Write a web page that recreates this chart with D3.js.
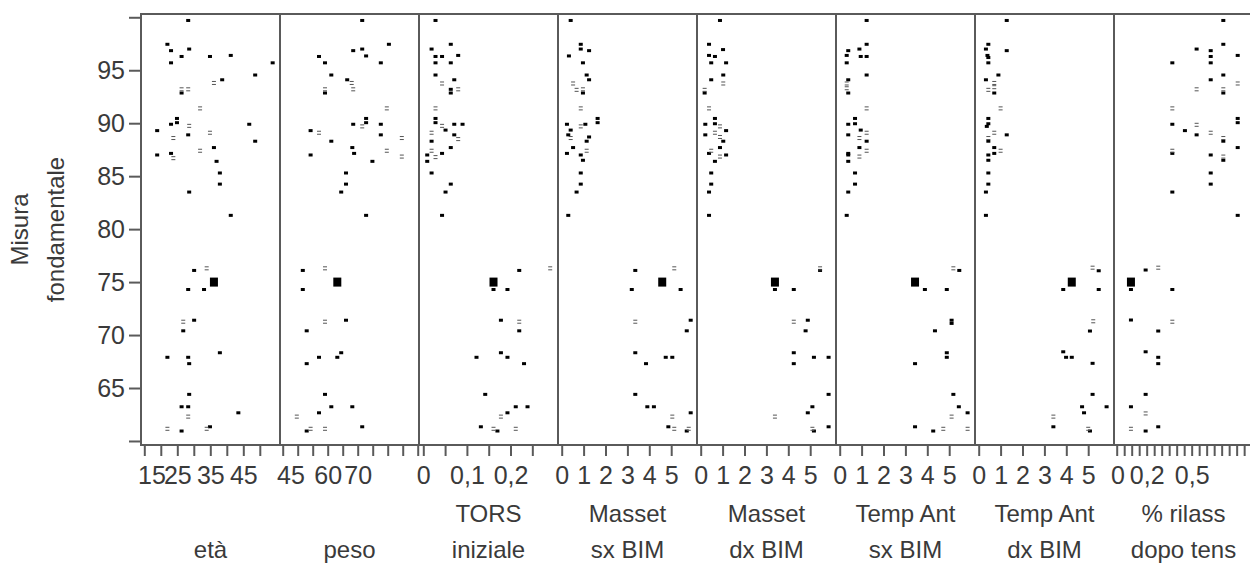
<!DOCTYPE html>
<html><head><meta charset="utf-8">
<script src="https://cdn.jsdelivr.net/npm/d3@7/dist/d3.min.js"></script>
<style>
body{margin:0;background:#fff;overflow:hidden}
text{font-family:"Liberation Sans",Arial,sans-serif;fill:#3a3a3a}
</style>
</head><body>
<svg id="chart" width="1250" height="563"></svg>
<script>
// ---------- DATA ----------
const panelTitles = [["età"],["peso"],["TORS","iniziale"],["Masset","sx BIM"],["Masset","dx BIM"],["Temp Ant","sx BIM"],["Temp Ant","dx BIM"],["% rilass","dopo tens"]];
const xDomains = [[14,56.12],[44.1,90.43],[-0.00986,0.3089],[-0.169,6.178],[-0.169,6.178],[-0.169,6.178],[-0.169,6.178],[-0.018,0.909]];
const xTicks = [
  [15,20,25,30,35,40,45,50],
  [45,50,55,60,65,70,75,80,85,90],
  [0,0.05,0.1,0.15,0.2,0.25],
  [0,1,2,3,4,5],[0,1,2,3,4,5],[0,1,2,3,4,5],[0,1,2,3,4,5],
  [0,0.05,0.1,0.15,0.2,0.25,0.3,0.35,0.4,0.45,0.5,0.55,0.6,0.65,0.7,0.75,0.8,0.85,0.9]
];
const xTickLabels = [[15,25,35,45],[45,60,70],[0,0.1,0.2],[0,1,2,3,4,5],[0,1,2,3,4,5],[0,1,2,3,4,5],[0,1,2,3,4,5],[0,0.2,0.5]];
const yTicks = [60,65,70,75,80,85,90,95,100];
const yTickLabels = [65,70,75,80,85,90,95];
const yDomain = [59.62,100.31];
const yTitle = ["Misura","fondamentale"];

// points: [x, y, light(1) / solid(0)]
const eta = [[28.3,99.7,0],[22.0,97.45,0],[23.1,96.85,0],[28.6,97.0,0],[26.3,96.3,0],[34.9,96.3,0],[41.2,96.4,0],[23.1,95.7,0],[53.9,95.7,0],[48.6,94.55,0],[38.6,94.1,0],[36.1,93.8,1],[26.3,93.2,1],[28.3,93.2,1],[26.3,92.85,0],[31.9,91.4,1],[24.9,90.45,0],[24.9,90.05,0],[23.1,89.9,0],[28.6,89.75,1],[46.8,89.9,0],[18.9,89.3,0],[28.3,88.9,0],[34.9,89.1,1],[23.8,88.6,1],[48.6,88.3,0],[36.1,87.7,0],[31.9,87.4,1],[18.9,87.0,0],[23.1,87.15,0],[23.8,86.7,1],[36.9,86.4,0],[37.9,85.3,0],[37.9,84.25,0],[28.6,83.5,0],[41.2,81.3,0],
 [30.1,76.1,0],[33.9,76.3,1],[28.3,74.3,0],[33.1,74.3,0],[30.1,71.4,0],[26.8,71.26,1],[26.8,70.4,0],[22.0,67.9,0],[28.3,67.9,0],[28.6,67.3,0],[37.9,68.33,0],[28.6,64.4,0],[26.3,63.23,0],[28.3,63.23,0],[43.5,62.66,0],[28.3,62.3,1],[22.0,61.15,1],[26.3,60.94,0],[33.9,61.15,1],[34.9,61.34,0]];
const peso = [[71.5,99.7,0],[80.4,97.45,0],[71.5,97.0,0],[68.5,96.85,0],[72.8,96.35,0],[57.1,96.3,0],[59.1,95.7,0],[77.7,95.7,0],[61.2,94.55,0],[66.5,94.1,0],[68.0,93.8,1],[68.5,93.2,1],[59.1,93.2,1],[59.1,92.85,0],[79.7,91.4,1],[72.8,90.45,0],[72.8,90.05,0],[68.5,89.9,0],[71.5,89.7,1],[77.7,89.9,0],[54.3,89.3,0],[57.1,89.1,1],[77.7,88.9,0],[84.7,88.6,1],[61.2,88.3,0],[68.2,87.7,0],[79.7,87.4,1],[54.3,87.0,0],[68.8,87.15,0],[84.7,86.85,1],[74.9,86.4,0],[66.1,85.3,0],[66.1,84.25,0],[64.5,83.5,0],[72.8,81.3,0],
 [51.7,76.1,0],[59.1,76.3,1],[51.7,74.3,0],[66.1,71.4,0],[59.1,71.26,1],[53.0,70.4,0],[57.1,67.9,0],[63.2,67.9,0],[64.5,68.33,0],[53.0,67.3,0],[59.1,64.4,0],[61.2,63.23,0],[68.2,63.23,0],[57.1,62.66,0],[49.7,62.3,1],[53.0,60.94,0],[54.3,61.15,1],[59.1,61.15,1],[71.5,61.34,0]];
const tors = [[0.028,99.7,0],[0.063,97.45,0],[0.019,97.0,0],[0.028,96.3,0],[0.043,96.3,0],[0.080,96.4,0],[0.028,95.7,0],[0.063,95.7,0],[0.028,94.55,0],[0.071,94.1,0],[0.043,93.75,1],[0.063,93.2,0],[0.080,93.2,1],[0.063,92.85,0],[0.028,91.4,1],[0.028,90.45,0],[0.028,90.05,0],[0.043,89.75,1],[0.051,89.35,0],[0.071,89.9,0],[0.090,89.9,0],[0.019,89.1,1],[0.071,88.9,0],[0.080,88.5,1],[0.019,88.3,0],[0.063,87.7,0],[0.019,87.4,1],[0.009,87.0,0],[0.043,87.15,0],[0.028,86.8,1],[0.009,86.4,0],[0.019,85.3,0],[0.063,84.25,0],[0.051,83.5,0],[0.043,81.3,0],
 [0.220,76.1,0],[0.291,76.3,1],[0.161,74.3,0],[0.193,74.3,0],[0.178,71.4,0],[0.220,71.26,1],[0.220,70.4,0],[0.122,67.9,0],[0.193,67.9,0],[0.178,68.33,0],[0.231,67.3,0],[0.142,64.4,0],[0.212,63.23,0],[0.239,63.23,0],[0.193,62.66,0],[0.178,62.3,1],[0.132,61.34,0],[0.161,61.15,1],[0.170,60.94,0],[0.212,61.15,1]];
const massetSx = [[0.41,99.7,0],[0.87,97.45,0],[0.87,97.0,0],[1.25,96.85,0],[0.33,96.35,0],[0.97,95.7,0],[1.14,94.55,0],[1.25,94.1,0],[0.52,93.75,1],[0.68,93.15,1],[0.97,93.2,1],[0.97,92.85,0],[0.87,91.4,1],[1.64,90.45,0],[1.64,90.05,0],[0.24,89.9,0],[0.87,89.7,1],[1.08,89.9,0],[0.41,89.35,0],[0.30,88.9,0],[0.41,88.6,1],[1.25,88.7,0],[1.14,88.3,0],[0.52,87.7,0],[1.14,87.4,1],[0.24,87.15,0],[0.87,87.0,0],[0.97,86.5,0],[0.87,85.3,0],[0.87,84.25,0],[0.68,83.5,0],[0.30,81.3,0],
 [3.36,76.1,0],[5.14,76.3,1],[3.20,74.3,0],[5.43,74.3,0],[5.89,71.4,0],[3.36,71.26,1],[5.71,70.4,0],[3.36,68.33,0],[4.75,67.9,0],[5.05,67.9,0],[3.85,67.3,0],[3.36,64.4,0],[3.91,63.23,0],[4.21,63.23,0],[5.89,62.66,0],[5.05,62.3,1],[4.87,61.34,0],[5.14,61.15,1],[5.71,60.94,0],[5.80,61.15,1]];
const massetDx = [[0.88,99.7,0],[0.38,97.45,0],[1.02,96.95,0],[0.38,96.4,0],[0.65,96.3,0],[0.48,95.7,0],[1.16,95.7,0],[1.03,94.55,0],[0.48,94.1,0],[1.03,93.75,1],[0.18,93.15,1],[0.18,92.85,0],[0.38,91.4,1],[0.65,90.45,0],[0.65,89.95,0],[0.21,89.9,0],[0.88,89.7,1],[1.16,89.3,0],[0.65,89.1,1],[0.21,88.9,0],[0.88,88.7,1],[1.03,88.3,0],[0.88,87.7,0],[0.48,87.4,1],[0.38,87.15,0],[1.16,87.0,0],[0.88,86.85,1],[0.65,86.4,0],[0.48,85.3,0],[0.48,84.25,0],[0.38,83.5,0],[0.38,81.3,0],
 [5.45,76.3,1],[5.45,76.1,0],[3.39,74.3,0],[4.25,74.3,0],[4.25,71.26,1],[4.89,71.4,0],[4.79,70.4,0],[4.25,68.33,0],[5.17,67.9,0],[5.84,67.9,0],[4.25,67.3,0],[5.84,64.4,0],[5.10,63.23,0],[4.89,62.66,0],[3.39,62.3,1],[5.84,61.34,0],[5.10,61.15,1],[5.17,60.94,0]];
const tempSx = [[1.23,99.7,0],[1.23,97.45,0],[0.90,97.0,0],[0.39,96.85,0],[0.32,96.4,0],[0.96,96.3,0],[1.23,96.3,0],[0.32,95.7,0],[1.23,94.55,0],[0.39,94.1,0],[0.32,93.75,1],[0.32,93.3,1],[0.39,92.85,0],[1.23,91.4,1],[0.70,90.45,0],[0.39,89.9,0],[0.96,89.35,0],[0.70,89.95,0],[0.39,88.9,0],[0.90,88.6,1],[1.23,89.1,1],[1.23,88.3,0],[0.90,87.7,0],[1.23,87.4,1],[0.39,87.15,0],[0.39,87.0,0],[0.90,86.85,1],[0.39,86.4,0],[0.70,85.3,0],[0.70,84.25,0],[0.39,83.5,0],[0.32,81.3,0],
 [5.19,76.3,1],[5.46,76.1,0],[3.89,74.3,0],[4.89,74.3,0],[5.11,71.4,0],[5.11,71.1,0],[4.35,70.4,0],[4.89,68.33,0],[4.89,67.9,0],[3.44,67.3,0],[5.19,64.4,0],[5.44,63.23,0],[5.84,62.66,0],[5.11,62.3,1],[3.44,61.34,0],[4.27,60.94,0],[4.73,61.15,1],[5.84,61.15,1]];
const tempDx = [[1.28,99.7,0],[0.44,97.45,0],[1.28,96.85,0],[0.33,97.0,0],[0.40,96.4,0],[0.44,96.2,0],[0.44,95.7,0],[0.90,94.55,0],[0.33,94.1,0],[0.71,93.8,1],[0.44,93.15,1],[0.71,93.4,1],[0.71,92.85,0],[1.0,91.4,1],[0.44,90.45,0],[0.44,89.95,0],[0.37,89.7,0],[0.71,89.1,1],[1.28,88.9,0],[0.44,88.6,1],[0.44,88.3,0],[0.71,87.7,0],[1.0,87.4,1],[0.71,87.15,0],[0.44,87.0,0],[0.44,86.5,0],[0.44,85.3,0],[0.44,84.25,0],[0.33,83.5,0],[0.33,81.3,0],
 [5.2,76.36,1],[5.48,76.07,0],[3.86,74.3,0],[5.48,74.3,0],[5.23,71.3,1],[5.08,70.38,0],[3.86,68.42,0],[3.99,67.9,0],[4.25,67.9,0],[5.2,67.33,0],[5.2,64.4,0],[4.72,63.23,0],[5.84,63.23,0],[4.81,62.66,0],[3.41,62.3,1],[3.41,61.34,0],[5.0,61.15,1],[5.08,60.94,0]];
const rilass = [[0.711,99.7,0],[0.711,97.45,0],[0.533,97.0,0],[0.627,96.85,0],[0.807,96.4,0],[0.627,96.3,0],[0.627,95.7,0],[0.371,95.7,0],[0.711,94.55,0],[0.627,94.1,0],[0.807,93.75,1],[0.533,93.2,1],[0.711,93.2,1],[0.711,92.85,0],[0.371,91.4,1],[0.807,90.45,0],[0.807,90.05,0],[0.371,89.9,0],[0.533,89.85,1],[0.455,89.3,0],[0.533,88.9,0],[0.627,89.1,1],[0.711,88.6,1],[0.711,88.3,0],[0.807,87.7,0],[0.371,87.4,1],[0.371,87.15,0],[0.627,87.0,0],[0.711,86.85,1],[0.711,86.5,0],[0.627,85.3,0],[0.627,84.25,0],[0.371,83.5,0],[0.807,81.3,0],
 [0.193,76.14,0],[0.277,76.36,1],[0.095,74.3,0],[0.371,74.3,0],[0.095,71.42,0],[0.371,71.26,1],[0.277,70.38,0],[0.193,68.42,0],[0.277,67.9,0],[0.277,67.3,0],[0.193,64.4,0],[0.095,63.23,0],[0.193,62.6,1],[0.095,61.15,1],[0.193,60.94,0],[0.277,61.34,0]];
const seriesList = [eta, peso, tors, massetSx, massetDx, tempSx, tempDx, rilass];
// highlighted subject (large square), x per variable, shared y
const highlightX = [36.1, 63.2, 0.161, 4.59, 3.39, 3.44, 4.25, 0.095];
const highlightY = 75;

// ---------- LAYOUT ----------
const plotLeft = 141, plotTop = 14, plotBottom = 445, panelW = 139;
const axisColor = "#5a5a5a";
const fmt = v => String(v).replace(".", ",");

const svg = d3.select("#chart");
const yScale = d3.scaleLinear().domain(yDomain).range([plotBottom, plotTop]);

// y axis
const yAxis = d3.axisLeft(yScale).tickValues(yTicks).tickSize(12).tickPadding(4)
  .tickFormat(d => yTickLabels.includes(d) ? fmt(d) : "");
const gy = svg.append("g").attr("transform", `translate(${plotLeft},0)`).call(yAxis);
gy.select(".domain").remove();
gy.selectAll("line").attr("stroke", axisColor).attr("stroke-width", 2);
gy.selectAll("text").attr("font-size", 25).attr("fill", "#3a3a3a")
  .attr("font-family", '"Liberation Sans",Arial,sans-serif');

// y title
const yt = svg.append("text").attr("transform", `translate(0,${(plotTop+plotBottom)/2}) rotate(-90)`)
  .attr("text-anchor", "middle").attr("font-size", 24);
yt.append("tspan").attr("x", 0).attr("y", 28).text(yTitle[0]);
yt.append("tspan").attr("x", 0).attr("y", 64).text(yTitle[1]);

// panels
seriesList.forEach((data, i) => {
  const x0 = plotLeft + i * panelW;
  const x = d3.scaleLinear().domain(xDomains[i]).range([x0, x0 + panelW]);
  const g = svg.append("g");

  // x axis
  const xa = d3.axisBottom(x).tickValues(xTicks[i]).tickSize(11).tickPadding(7)
    .tickFormat(d => xTickLabels[i].some(l => Math.abs(l - d) < 1e-9) ? fmt(d) : "");
  const gx = g.append("g").attr("transform", `translate(0,${plotBottom})`).call(xa);
  gx.select(".domain").remove();
  gx.selectAll("line").attr("stroke", axisColor).attr("stroke-width", 2);
  gx.selectAll("text").attr("font-size", 25).attr("fill", "#3a3a3a")
    .attr("font-family", '"Liberation Sans",Arial,sans-serif')
    .attr("y", 21).attr("dy", "0.71em");
  // keep labels from spilling past the panel's left edge
  gx.selectAll(".tick text").each(function() {
    const t = d3.select(this);
    const tx = d3.select(this.parentNode).attr("transform");
    const px = +/translate\(([-\d.]+)/.exec(tx)[1];
    const w = this.getComputedTextLength();
    if (w > 0 && px - w / 2 < x0 - 3) t.attr("x", (x0 - 3) - px + w / 2);
  });

  // points
  g.selectAll("rect.pt").data(data.filter(d => !d[2])).join("rect")
    .attr("class", "pt")
    .attr("x", d => x(d[0]) - 2).attr("y", d => yScale(d[1]) - 1.5)
    .attr("width", 4).attr("height", 3).attr("fill", "#000");
  const light = g.selectAll("g.lt").data(data.filter(d => d[2])).join("g").attr("class", "lt");
  light.append("rect").attr("x", d => x(d[0]) - 2).attr("y", d => yScale(d[1]) - 2)
    .attr("width", 4).attr("height", 1).attr("fill", "#555");
  light.append("rect").attr("x", d => x(d[0]) - 2).attr("y", d => yScale(d[1]) + 1)
    .attr("width", 4).attr("height", 1).attr("fill", "#555");

  // highlighted point
  g.append("rect").attr("x", x(highlightX[i]) - 4).attr("y", yScale(highlightY) - 4.5)
    .attr("width", 8).attr("height", 9).attr("fill", "#000");

  // title
  const lines = panelTitles[i];
  const cx = x0 + panelW / 2;
  lines.forEach((t, k) => {
    const base = lines.length === 2 ? (k === 0 ? 522 : 558) : 558;
    g.append("text").attr("x", cx).attr("y", base).attr("text-anchor", "middle")
      .attr("font-size", 24).text(t);
  });
});

// frame
svg.append("rect").attr("x", plotLeft).attr("y", plotTop).attr("width", panelW * 8).attr("height", plotBottom - plotTop)
  .attr("fill", "none").attr("stroke", axisColor).attr("stroke-width", 2);
for (let i = 1; i < 8; i++) {
  svg.append("line").attr("x1", plotLeft + i * panelW).attr("x2", plotLeft + i * panelW)
    .attr("y1", plotTop).attr("y2", plotBottom).attr("stroke", axisColor).attr("stroke-width", 2);
}
</script>
</body></html>
